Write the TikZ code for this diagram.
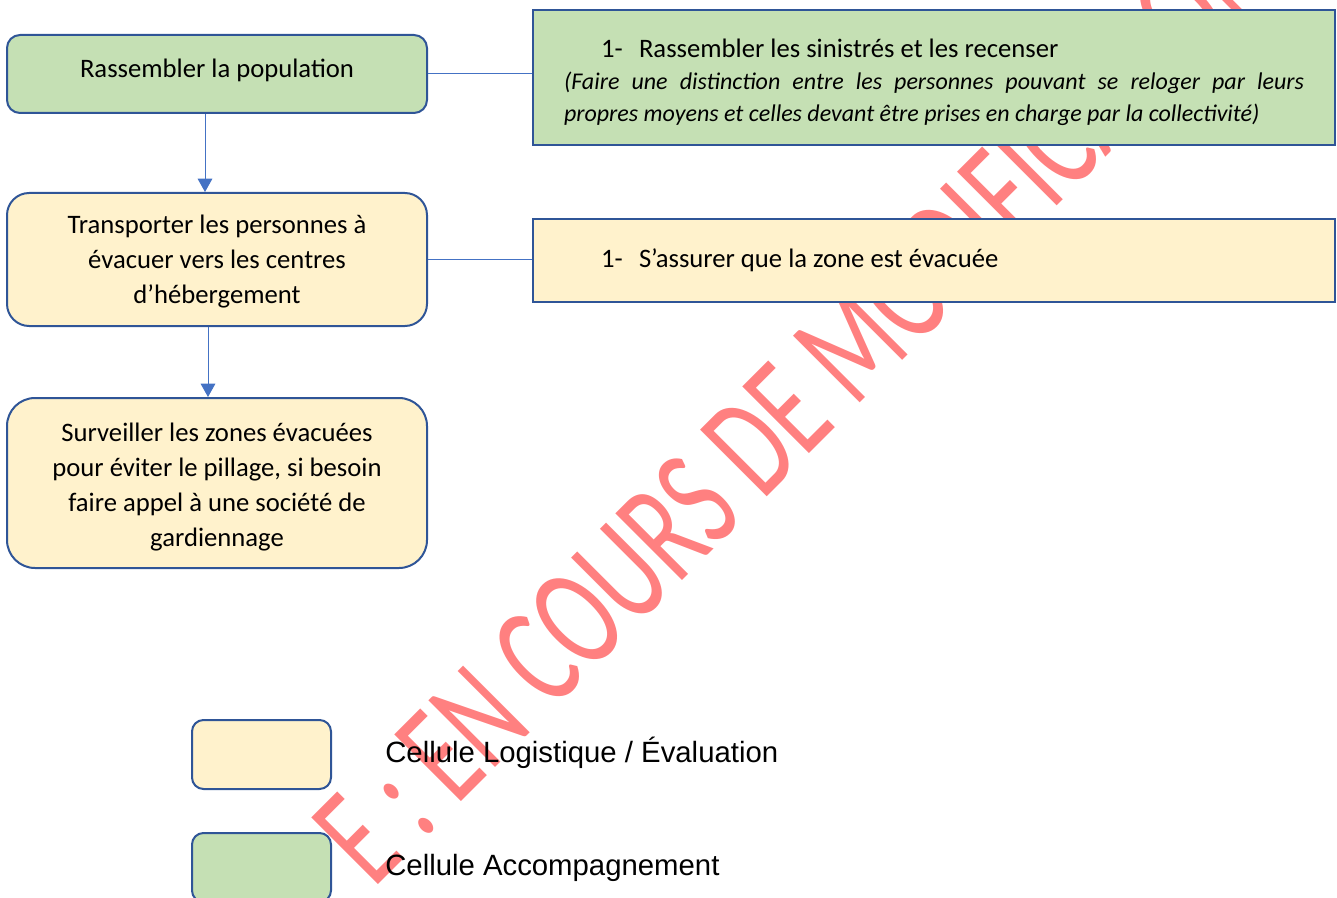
\documentclass[tikz,border=0pt]{standalone}
\usepackage{fontspec}
\setmainfont{Carlito}
\newfontfamily\arialfont{Liberation Sans}
\usetikzlibrary{arrows.meta}

\definecolor{fondvert}{HTML}{C5E0B4}
\definecolor{fondjaune}{HTML}{FFF2CC}
\definecolor{bordbleu}{HTML}{2F5597}
\definecolor{lienbleu}{HTML}{4472C4}
\definecolor{filigrane}{HTML}{FF8080}

% struts: hauteur de la premiere ligne, profondeur de la derniere
\newcommand{\haut}[1]{\rule{0pt}{#1}}
\newcommand{\bas}[1]{\rule[-#1]{0pt}{0pt}}
\newcommand{\puce}{\hspace*{27.75pt}\makebox[28.5pt][l]{1-}}

\tikzset{
  etape/.style={draw=bordbleu, line width=1.5pt, minimum width=315pt, inner sep=0pt,
    align=center, font=\fontsize{20}{26.25}\selectfont},
  action/.style={draw=bordbleu, line width=1.5pt, minimum width=601.5pt, inner sep=0pt,
    text width=555pt, align=justify},
  legende/.style={draw=bordbleu, line width=1.5pt, minimum width=104.25pt,
    minimum height=51.75pt, rounded corners=8.6pt},
  libelle/.style={anchor=base west, inner sep=0pt, font=\arialfont\fontsize{22}{26}\selectfont},
  lien/.style={lienbleu, line width=0.75pt},
  fleche/.style={lien, -{Triangle[width=11pt,length=10pt]}},
  tampon/.style={text=filigrane, font=\fontsize{73.5}{73.5}\selectfont, inner sep=0pt,
    anchor=base west, rotate=45, yscale=1.5}
}

\begin{document}
\begin{tikzpicture}[x=0.75pt,y=-0.75pt]
  \useasboundingbox (0,0) rectangle (1337,898);

  % filigrane en arriere-plan
  \begin{scope}
    \clip (0,0) rectangle (1337,898);
    \node[tampon] (marque) at (373,890) {E : EN COURS DE MODIFICATION};
  \end{scope}

  % etapes
  \node[etape, fill=fondvert, minimum height=58.5pt, rounded corners=9.75pt]
    (rassembler) at (217,74) {\haut{18pt}Rassembler la population\bas{12pt}};
  \node[etape, fill=fondjaune, minimum height=99.75pt, rounded corners=16.6pt]
    (transporter) at (217,259.5) {\haut{24.25pt}Transporter les personnes à\\évacuer vers les centres\\d’hébergement\bas{10pt}};
  \node[etape, fill=fondjaune, minimum height=127.5pt, rounded corners=21pt]
    (surveiller) at (217,483) {\haut{25.75pt}Surveiller les zones évacuées\\pour éviter le pillage, si besoin\\faire appel à une société de\\gardiennage\bas{10pt}};

  % actions
  \node[action, fill=fondvert, minimum height=101.25pt, font=\fontsize{18}{24}\selectfont]
    (recenser) at (934,77.5) {\sloppy{\fontsize{20}{24}\selectfont\haut{28.75pt}\puce Rassembler les sinistrés et les recenser}\\
    \itshape (Faire une distinction entre les personnes pouvant se reloger par leurs\linebreak propres moyens et celles devant être prises en charge par la collectivité)\bas{10pt}};
  \node[action, fill=fondjaune, minimum height=62.25pt, font=\fontsize{20}{24}\selectfont]
    (zone) at (934,260.5) {\haut{21.25pt}\puce S’assurer que la zone est évacuée\bas{10pt}};

  % liaisons
  \draw[fleche] ([xshift=-9pt]rassembler.south) -- ([xshift=-9pt]transporter.north);
  \draw[fleche] ([xshift=-6.75pt]transporter.south) -- ([xshift=-6.75pt]surveiller.north);
  \draw[lien] (rassembler.east) -- (rassembler.east -| recenser.west);
  \draw[lien] (transporter.east) -- (transporter.east -| zone.west);

  % legende
  \node[legende, fill=fondjaune] (celllog) at (261.5,754.5) {};
  \node[legende, fill=fondvert] (cellacc) at (261.5,867.5) {};
  \node[libelle] (txtlog) at (385,762) {Cellule Logistique / Évaluation};
  \node[libelle] (txtacc) at (385,875) {Cellule Accompagnement};
\end{tikzpicture}
\end{document}
